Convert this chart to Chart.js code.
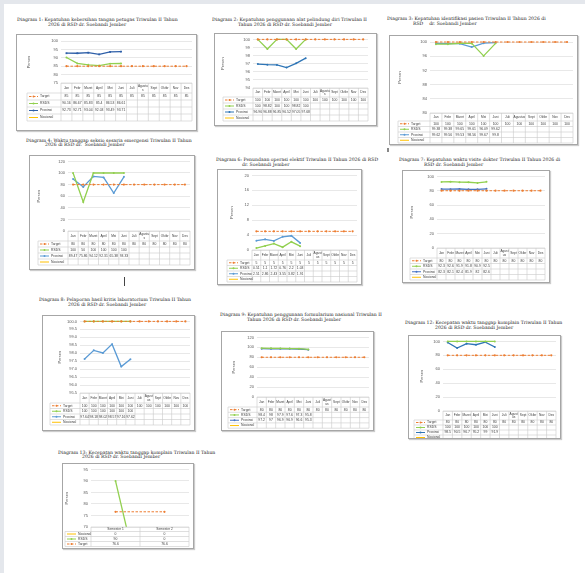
<!DOCTYPE html>
<html>
<head>
<meta charset="utf-8">
<script src="https://cdn.jsdelivr.net/npm/chart.js@4.4.1/dist/chart.umd.min.js"></script>
<style>
body { margin: 0; background: #fff; }
#page { position: relative; width: 585px; height: 573px; overflow: hidden; background: #fff; }
.strip-l { position: absolute; left: 0; top: 0; width: 4px; height: 573px; background: #e4e7ec; }
.strip-t { position: absolute; left: 0; top: 0; width: 585px; height: 4px; background: #e4e7ec; }
.judul { position: absolute; font-family: "DejaVu Serif", serif; font-size: 4.6px; line-height: 4.8px; color: #222; white-space: pre; }
.kotak { position: absolute; border: 1px solid #a6a6a6; box-shadow: 1px 1px 1px rgba(0,0,0,.2); background: #fff; }
.kotak canvas { display: block; }
.tanda { position: absolute; background: #444; }
</style>
</head>
<body>
<div id="page">
  <div class="strip-l"></div>
  <div class="strip-t"></div>
  <div class="tanda" style="left:124px;top:277px;width:1px;height:9px"></div>
  <div class="tanda" style="left:387px;top:148px;width:2px;height:4px;background:#888"></div>
</div>
<script>
var bulan = ['Jan', 'Febr', 'Maret', 'April', 'Mei', 'Juni', 'Juli', 'Agustus', 'Sept', 'Oktbr', 'Nov', 'Des'];
var semester = ['Semester 1', 'Semester 2'];

// Diagram 1
var target1 = [85, 85, 85, 85, 85, 85, 85, 85, 85, 85, 85, 85];
var rsds1 = [90.16, 86.67, 85.83, 85.4, 86.53, 86.61];
var prov1 = [92.73, 92.71, 93.04, 92.03, 93.49, 93.71];
// Diagram 2
var target2 = [100, 100, 100, 100, 100, 100, 100, 100, 100, 100, 100, 100];
var rsds2 = [100, 98.82, 100, 100, 98.82, 100];
var prov2 = [96.96, 96.88, 96.85, 96.52, 97.05, 97.68];
// Diagram 3
var target3 = [100, 100, 100, 100, 100, 100, 100, 100, 100, 100, 100, 100];
var rsds3 = [99.38, 99.38, 99.65, 99.61, 96.09, 99.62];
var prov3 = [99.62, 99.56, 99.53, 98.56, 99.67, 99.8];
// Diagram 4
var target4 = [80, 80, 80, 80, 80, 80, 80, 80, 80, 80, 80, 80];
var rsds4 = [100, 50, 100, 100, 100, 100];
var prov4 = [89.47, 75.86, 94.12, 92.31, 65.38, 93.33];
// Diagram 6
var target6 = [5, 5, 5, 5, 5, 5, 5, 5, 5, 5, 5, 5];
var rsds6 = [0.51, 1.1, 1.72, 0.76, 2.2, 1.03];
var prov6 = [2.51, 2.86, 2.43, 3.55, 3.82, 1.91];
// Diagram 7
var target7 = [80, 80, 80, 80, 80, 80, 80, 80, 80, 80, 80, 80];
var rsds7 = [92.3, 92.6, 91.9, 91.8, 90.9, 92.5];
var prov7 = [82.3, 82.1, 82.4, 81.9, 82, 82.6];
// Diagram 8
var target8 = [100, 100, 100, 100, 100, 100, 100, 100, 100, 100, 100, 100];
var rsds8 = [100, 100, 100, 100, 100, 100];
var prov8 = [97.64, 98.18, 98.02, 98.57, 97.16, 97.62];
// Diagram 9
var target9 = [80, 80, 80, 80, 80, 80, 80, 80, 80, 80, 80, 80];
var rsds9 = [98.4, 98, 97.9, 97.6, 97.3, 95.8];
var prov9 = [97.2, 97, 96.9, 96.9, 96.6, 95.3];
// Diagram 12
var target12 = [80, 80, 80, 80, 80, 80, 80, 80, 80, 80, 80, 80];
var rsds12 = [100, 100, 100, 100, 100, 100];
var prov12 = [98.5, 90.5, 96.7, 95.2, 99, 91.9];
// Diagram 13
var nas13 = [0, 0];
var rsds13 = [90, 0];
var target13 = [76.6, 76.6];

var ORANYE = '#ED7D31', HIJAU = '#92D050', KUNING = '#FFC000';

Chart.defaults.font.family = '"Liberation Sans", Arial, sans-serif';
Chart.defaults.color = '#595959';

function pecah(ctx, t, maxW) {
    if (ctx.measureText(t).width <= maxW) return [t];
    var k = t.length - 1;
    while (k > 1 && ctx.measureText(t.slice(0, k)).width > maxW) k--;
    return [t.slice(0, k), t.slice(k)];
}

// tabel data ala Excel di bawah area plot
var tabelPlugin = {
    id: 'tabel',
    afterDraw: function (chart, args, o) {
        var ctx = chart.ctx, xs = chart.scales.x, a = chart.chartArea;
        var n = chart.data.labels.length;
        var w = (xs.right - xs.left) / n;
        var top = a.bottom, y0 = top + o.headH;
        var urut = o.urut;
        var bawah = y0 + urut.length * o.rowH;
        ctx.save();
        ctx.strokeStyle = '#c9c9c9';
        ctx.lineWidth = 0.6;
        ctx.beginPath();
        for (var i = 0; i <= n; i++) {
            ctx.moveTo(xs.left + i * w, top);
            ctx.lineTo(xs.left + i * w, bawah);
        }
        ctx.moveTo(o.legX, y0);
        ctx.lineTo(o.legX, bawah);
        ctx.moveTo(xs.left, top);
        ctx.lineTo(xs.right, top);
        for (var r = 0; r <= urut.length; r++) {
            ctx.moveTo(o.legX, y0 + r * o.rowH);
            ctx.lineTo(xs.right, y0 + r * o.rowH);
        }
        ctx.stroke();

        ctx.fillStyle = '#404040';
        ctx.font = (o.fs - 0.2) + 'px "Liberation Sans", Arial, sans-serif';
        ctx.textAlign = 'center';
        ctx.textBaseline = 'middle';
        chart.data.labels.forEach(function (lab, i) {
            var cx = xs.left + (i + 0.5) * w;
            var baris = pecah(ctx, lab, w + 0.5);
            baris.forEach(function (t, k) {
                ctx.fillText(t, cx, top + o.headH / 2 + (k - (baris.length - 1) / 2) * o.fs * 1.1);
            });
        });

        ctx.font = o.fs + 'px "Liberation Sans", Arial, sans-serif';
        urut.forEach(function (di, r) {
            var ds = chart.data.datasets[di];
            var cy = y0 + (r + 0.5) * o.rowH;
            ctx.strokeStyle = ds.borderColor;
            ctx.lineWidth = 1;
            ctx.setLineDash(ds.borderDash || []);
            ctx.beginPath();
            ctx.moveTo(o.legX + 2, cy);
            ctx.lineTo(o.legX + 11, cy);
            ctx.stroke();
            ctx.setLineDash([]);
            if (ds.pointRadius > 0) {
                ctx.fillStyle = ds.borderColor;
                ctx.beginPath();
                ctx.arc(o.legX + 6.5, cy, 1, 0, Math.PI * 2);
                ctx.fill();
            }
            ctx.fillStyle = '#404040';
            ctx.textAlign = 'left';
            ctx.fillText(ds.label, o.legX + 13, cy);
            ctx.textAlign = 'center';
            ds.data.forEach(function (v, i) {
                if (v !== null && v !== undefined) ctx.fillText(String(v), xs.left + (i + 0.5) * w, cy);
            });
        });
        ctx.restore();
    }
};

function seri(label, data, warna, opsi) {
    var s = {
        label: label,
        data: data,
        borderColor: warna,
        backgroundColor: warna,
        borderWidth: 1.3,
        pointRadius: 1,
        pointBorderWidth: 0,
        pointStyle: 'circle',
        tension: 0,
        clip: { left: 4, top: 4, right: 4, bottom: 0 }
    };
    for (var k in opsi) s[k] = opsi[k];
    return s;
}

function target(data) {
    return seri('Target', data, ORANYE, { borderWidth: 1, borderDash: [2.5, 1.5], pointRadius: 1.1 });
}

function nasional(data) {
    return seri('Nasional', data, KUNING, { pointRadius: 0 });
}

var grafik = [
    {
        judul: ['Diagram 1: Kepatuhan kebersihan tangan petugas Triwulan II Tahun', '2026 di RSD dr. Soebandi Jember'],
        tp: [17, 17.8, 31],
        box: [16, 34, 181, 97], plot: [61, 41, 194, 83], persenX: 29, legX: 27, headH: 10, rowH: 7,
        y: [75, 100, 5], labels: bulan,
        ds: [target(target1), seri('RSDS', rsds1, HIJAU), seri('Provinsi', prov1, '#2E5FA8', { pointStyle: 'rect', pointRadius: 1.3 }), nasional([])],
        urut: [0, 1, 2, 3]
    },
    {
        judul: ['Diagram 2: Kepatuhan penggunaan alat pelindung diri Triwulan II', 'Tahun 2026 di RSD dr. Soebandi Jember'],
        tp: [212, 17.8, 26],
        box: [214, 33, 163, 93], plot: [253, 39, 368, 88], persenX: 223, legX: 223, headH: 9, rowH: 6,
        y: [94, 100, 1], labels: bulan,
        ds: [target(target2), seri('RSDS', rsds2, HIJAU), seri('Provinsi', prov2, '#2E75B6'), nasional([])],
        urut: [0, 1, 2, 3]
    },
    {
        judul: ['Diagram 3: Kepatuhan identifikasi pasien Triwulan II Tahun 2026 di', 'RSD    dr. Soebandi Jember'],
        tp: [387, 17, 26],
        box: [389, 35, 189, 110], plot: [430, 42, 574, 113], persenX: 400, legX: 398, headH: 8, rowH: 5.5,
        y: [80, 100, 2], labels: bulan,
        ds: [target(target3), seri('RSDS', rsds3, HIJAU), seri('Provinsi', prov3, '#5B9BD5'), nasional([])],
        urut: [0, 1, 2, 3]
    },
    {
        judul: ['Diagram 4: Waktu tanggap seksio sesaria emergensi Triwulan II Tahun', '2026 di RSD dr.  Soebandi Jember'],
        tp: [26, 138.5, 19],
        box: [29, 155, 166, 115], plot: [68, 159, 193, 231], persenX: 39, legX: 38, headH: 10, rowH: 6,
        y: [0, 120, 20], labels: bulan,
        ds: [target(target4), seri('RSDS', rsds4, HIJAU), seri('Provinsi', prov4, '#5B9BD5'), nasional([])],
        urut: [0, 1, 2, 3]
    },
    {
        judul: ['Diagram 6: Penundaan operasi elektif Triwulan II Tahun 2026 di RSD', 'dr. Soebandi Jember'],
        tp: [216, 157.8, 26],
        box: [217, 169, 145, 116], plot: [252, 172, 360, 250], persenX: 232, legX: 227, headH: 10, rowH: 5.5,
        y: [0, 20, 2], labels: bulan,
        ds: [target(target6), seri('RSDS', rsds6, HIJAU), seri('Provinsi', prov6, '#5B9BD5'), nasional([])],
        urut: [0, 1, 2, 3]
    },
    {
        judul: ['Diagram 7: Kepatuhan waktu visite dokter Triwulan II Tahun 2026 di', 'RSD dr. Soebandi Jember'],
        tp: [399, 157.8, 25],
        box: [402, 170, 148, 113], plot: [437, 174, 548, 248], persenX: 412, legX: 410, headH: 10, rowH: 5.5,
        y: [0, 100, 10], labels: bulan,
        ds: [target(target7), seri('RSDS', rsds7, HIJAU), seri('Provinsi', prov7, '#4472C4'), nasional([])],
        urut: [0, 1, 2, 3]
    },
    {
        judul: ['Diagram 8: Pelaporan hasil kritis laboratorium Triwulan II Tahun', '2026 di RSD dr. Soebandi Jember'],
        tp: [39, 297.8, 29],
        box: [42, 315, 153, 116], plot: [80, 319, 192, 393], persenX: 60, legX: 50, headH: 10, rowH: 5.5,
        y: [95.5, 100, 0.5], labels: bulan,
        ds: [target(target8), seri('RSDS', rsds8, HIJAU), seri('Provinsi', prov8, '#5B9BD5'), nasional([])],
        urut: [0, 1, 2, 3]
    },
    {
        judul: ['Diagram 9: Kepatuhan penggunaan formularium nasional Triwulan II', 'Tahun 2026 di RSD dr. Soebandi Jember'],
        tp: [220, 312.8, 27],
        box: [221, 331, 153, 100], plot: [257, 335, 372, 397], persenX: 234, legX: 228, headH: 10, rowH: 5.3,
        y: [0, 120, 20], labels: bulan,
        ds: [target(target9), seri('RSDS', rsds9, HIJAU), seri('Provinsi', prov9, '#4472C4'), nasional([])],
        urut: [0, 1, 2, 3]
    },
    {
        judul: ['Diagram 12: Kecepatan waktu tanggap komplain Triwulan II Tahun', '2026 di RSD dr. Soebandi Jember'],
        tp: [405, 321, 30],
        box: [408, 335, 153, 104], plot: [443, 340, 558, 411], persenX: 422, legX: 414, headH: 9, rowH: 5,
        y: [0, 100, 10], labels: bulan,
        ds: [target(target12), seri('RSDS', rsds12, HIJAU), seri('Provinsi', prov12, '#2E75B6'), nasional([])],
        urut: [0, 1, 2, 3]
    },
    {
        judul: ['Diagram 13: Kecepatan waktu tanggap komplain Triwulan II Tahun', '2026 di RSD dr. Soebandi Jember'],
        tp: [58, 450.5, 24],
        box: [62, 463, 132, 86], plot: [91, 468, 192, 527], persenX: 67, legX: 65, headH: 4.5, rowH: 5,
        y: [70, 95, 5], labels: semester,
        ds: [target(target13), seri('RSDS', rsds13, HIJAU), nasional(nas13)],
        urut: [2, 1, 0]
    }
];

var page = document.getElementById('page');

grafik.forEach(function (g) {
    var judul = document.createElement('div');
    judul.className = 'judul';
    judul.style.left = g.tp[0] + 'px';
    judul.style.top = g.tp[1] + 'px';
    judul.innerHTML = '<div></div><div style="padding-left:' + g.tp[2] + 'px"></div>';
    judul.children[0].textContent = g.judul[0];
    judul.children[1].textContent = g.judul[1];
    page.appendChild(judul);

    var box = document.createElement('div');
    box.className = 'kotak';
    box.style.left = g.box[0] + 'px';
    box.style.top = g.box[1] + 'px';
    var cw = g.box[2] - 2, ch = g.box[3] - 2;
    var ox = g.box[0] + 1, oy = g.box[1] + 1;
    var cv = document.createElement('canvas');
    cv.width = cw;
    cv.height = ch;
    cv.style.width = cw + 'px';
    cv.style.height = ch + 'px';
    box.appendChild(cv);
    page.appendChild(box);

    var padL = g.persenX - ox - 2.4;
    var lebarY = g.plot[0] - ox - padL;

    new Chart(cv, {
        type: 'line',
        data: { labels: g.labels, datasets: g.ds },
        options: {
            responsive: false,
            animation: false,
            devicePixelRatio: 1,
            events: [],
            layout: {
                padding: { left: padL, top: g.plot[1] - oy, right: ox + cw - g.plot[2], bottom: oy + ch - g.plot[3] }
            },
            plugins: {
                legend: { display: false },
                tooltip: { enabled: false },
                tabel: { urut: g.urut, headH: g.headH, rowH: g.rowH, legX: g.legX - ox, fs: 3.4 }
            },
            scales: {
                x: {
                    type: 'category',
                    offset: true,
                    grid: { display: false, drawTicks: false },
                    border: { display: false },
                    ticks: { display: false }
                },
                y: {
                    min: g.y[0],
                    max: g.y[1],
                    afterFit: function (s) { s.width = lebarY; },
                    ticks: { stepSize: g.y[2], font: { size: 4 }, padding: 3, color: '#595959' },
                    grid: { color: '#d9d9d9', lineWidth: 0.6, drawTicks: false },
                    border: { display: false },
                    title: { display: true, text: 'Persen', font: { size: 4 }, padding: 0, color: '#595959' }
                }
            }
        },
        plugins: [tabelPlugin]
    });
});
</script>
</body>
</html>
